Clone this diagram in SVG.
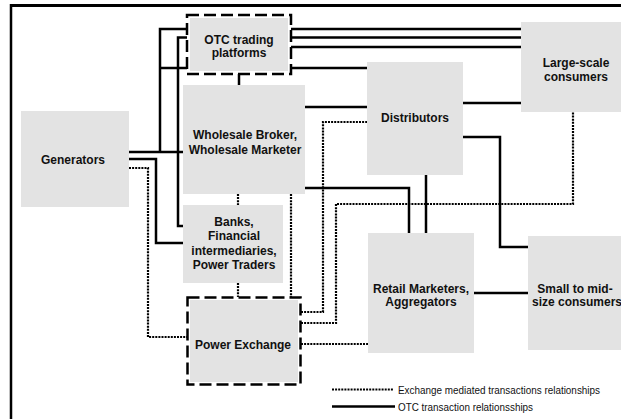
<svg xmlns="http://www.w3.org/2000/svg" width="621" height="419" viewBox="0 0 621 419">
  <style>
    .box { fill: #e3e3e3; }
    .frame { fill: none; stroke: #000; stroke-dasharray: 12 5; stroke-width: 2.5; }
    .lbl { font-family: "Liberation Sans", Arial, sans-serif; font-size: 12px; font-weight: bold; fill: #111; text-anchor: middle; }
    .leg { font-family: "Liberation Sans", Arial, sans-serif; font-size: 10.5px; fill: #111; }
    .otc { fill: none; stroke: #000; stroke-width: 2.5; }
    .ex { fill: none; stroke: #000; stroke-width: 2.2; stroke-dasharray: 2 1.1; }
    .border { fill: none; stroke: #000; }
  </style>

  <!-- outer border -->
  <path class="border" d="M10 5.5 H621" stroke-width="3"/>
  <path class="border" d="M11 4 V419" stroke-width="2.5"/>

  <!-- connectors -->
  <g id="connectors">
    <!-- OTC (bilateral) relationships -->
    <path class="otc" d="M129 152 H183"/>
    <path class="otc" d="M160 152 V29 H187"/>
    <path class="otc" d="M291 29 H521"/>
    <path class="otc" d="M183 226 H178 V37.5 H187"/>
    <path class="otc" d="M291 37.5 H521"/>
    <path class="otc" d="M291 47 H521"/>
    <path class="otc" d="M160 68 H187"/>
    <path class="otc" d="M291 68 H367"/>
    <path class="otc" d="M129 159 H156 V243 H183"/>
    <path class="otc" d="M239 74 V85"/>
    <path class="otc" d="M305 107 H367"/>
    <path class="otc" d="M305 188 H409 V233"/>
    <path class="otc" d="M426 175 V233"/>
    <path class="otc" d="M463 103 H521"/>
    <path class="otc" d="M463 137 H500 V247 H528"/>
    <path class="otc" d="M474 293 H528"/>
    <!-- exchange-mediated relationships -->
    <path class="ex" d="M129 168 H148 V337 H187"/>
    <path class="ex" d="M238 194 V205"/>
    <path class="ex" d="M238 283 V297"/>
    <path class="ex" d="M291 194 V297"/>
    <path class="ex" d="M301 312 H323 V122 H367"/>
    <path class="ex" d="M301 323 H336 V204 H573 V112"/>
    <path class="ex" d="M301 344 H368"/>
  </g>

  <!-- nodes -->
  <g id="generators">
    <rect class="box" x="21" y="111" width="108" height="96"/>
    <text class="lbl" x="73" y="164">Generators</text>
  </g>
  <g id="otc-platforms">
    <rect class="box" x="190" y="18" width="98" height="53"/>
    <rect class="frame" x="187" y="15" width="104" height="59"/>
    <text class="lbl" x="239" y="43.5">OTC trading</text>
    <text class="lbl" x="239" y="57">platforms</text>
  </g>
  <g id="wholesale">
    <rect class="box" x="183" y="85" width="122" height="109"/>
    <text class="lbl" x="245" y="139">Wholesale Broker,</text>
    <text class="lbl" x="245" y="154">Wholesale Marketer</text>
  </g>
  <g id="banks">
    <rect class="box" x="183" y="205" width="100" height="78"/>
    <text class="lbl" x="234" y="225.5">Banks,</text>
    <text class="lbl" x="234" y="240">Financial</text>
    <text class="lbl" x="234" y="254.5">intermediaries,</text>
    <text class="lbl" x="234" y="269">Power Traders</text>
  </g>
  <g id="power-exchange">
    <rect class="box" x="190" y="300" width="108" height="82"/>
    <rect class="frame" x="187.5" y="297.5" width="113" height="87"/>
    <text class="lbl" x="243" y="349">Power Exchange</text>
  </g>
  <g id="distributors">
    <rect class="box" x="367" y="62" width="96" height="113"/>
    <text class="lbl" x="415" y="122">Distributors</text>
  </g>
  <g id="large-consumers">
    <rect class="box" x="521" y="22" width="110" height="90"/>
    <text class="lbl" x="576" y="67">Large-scale</text>
    <text class="lbl" x="576" y="81">consumers</text>
  </g>
  <g id="retail">
    <rect class="box" x="368" y="233" width="106" height="120"/>
    <text class="lbl" x="421" y="292.5">Retail Marketers,</text>
    <text class="lbl" x="421" y="306">Aggregators</text>
  </g>
  <g id="small-consumers">
    <rect class="box" x="528" y="236" width="100" height="114"/>
    <text class="lbl" x="575" y="292.5">Small to mid-</text>
    <text class="lbl" x="577" y="306">size consumers</text>
  </g>

  <!-- legend -->
  <g id="legend">
    <path class="ex" d="M332 389.5 H394"/>
    <text class="leg" x="398" y="393.5" textLength="202" lengthAdjust="spacingAndGlyphs">Exchange mediated transactions relationships</text>
    <path class="otc" d="M332 406.5 H395"/>
    <text class="leg" x="398" y="411" textLength="135" lengthAdjust="spacingAndGlyphs">OTC transaction relationsships</text>
  </g>
</svg>
